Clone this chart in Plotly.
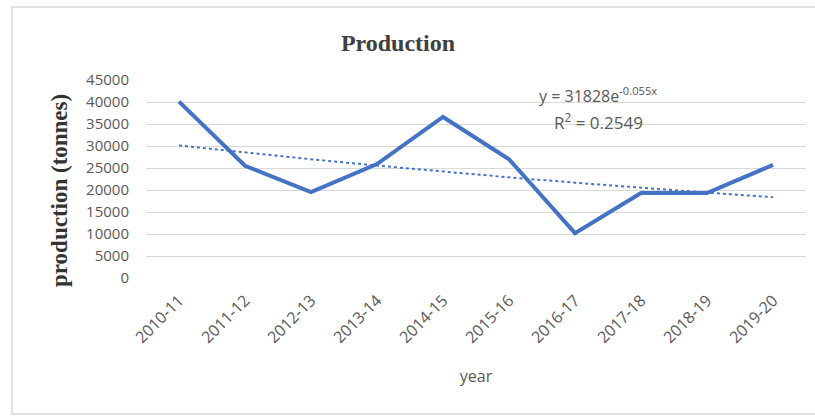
import numpy as np
import plotly.graph_objects as go

years = ["2010-11", "2011-12", "2012-13", "2013-14", "2014-15",
         "2015-16", "2016-17", "2017-18", "2018-19", "2019-20"]
production = [40100, 25500, 19500, 25900, 36600, 27000, 10200, 19300, 19300, 25700]
y_ticks = [0, 5000, 10000, 15000, 20000, 25000, 30000, 35000, 40000, 45000]

# Excel exponential trendline, as printed on the chart
trend_a = 31828
trend_b = -0.055
trend_label = "y = 31828e<sup>-0.055x</sup>"
r2_label = "R<sup>2</sup> = 0.2549"
y_title = "<b>production (tonnes)</b>"

idx = np.arange(1, len(years) + 1)
trend = trend_a * np.exp(trend_b * idx)

W, H = 815, 417
L, R, T, B = 146, 9, 80, 139
pw, ph = W - L - R, H - T - B

fig = go.Figure()
fig.add_trace(go.Scatter(x=years, y=production, mode="lines",
                         line=dict(color="#4472C4", width=4), showlegend=False))
fig.add_trace(go.Scatter(x=years, y=trend, mode="lines",
                         line=dict(color="#4472C4", width=2, dash="dot"), showlegend=False))

fig.update_layout(
    width=W, height=H,
    margin=dict(l=L, r=R, t=T, b=B),
    paper_bgcolor="white", plot_bgcolor="white",
    title=dict(text="<b>Production</b>", x=398 / W, xanchor="center",
               y=1 - 43 / H, yanchor="middle",
               font=dict(family="Liberation Serif", size=24, color="#404040")),
    xaxis=dict(type="category", range=[-0.5, len(years) - 0.5], tickangle=-45,
               showgrid=False, showline=False, ticks="", ticklabelstandoff=9,
               tickfont=dict(family="Open Sans", size=16, color="#595959"),
               title=dict(text="year", font=dict(family="Open Sans", size=16, color="#595959"),
                          standoff=24)),
    yaxis=dict(range=[0, 45000], tickvals=y_ticks, ticktext=[str(v) for v in y_ticks],
               showgrid=True, gridcolor="#D9D9D9", gridwidth=1, zeroline=False,
               showline=False, ticks="", ticklabelstandoff=16,
               tickfont=dict(family="Open Sans", size=15, color="#595959")),
    shapes=[dict(type="rect", xref="paper", yref="paper",
                 x0=(12 - L) / pw, x1=(W + 5 - L) / pw,
                 y0=-(B - 3) / ph, y1=1 + (T - 7) / ph,
                 line=dict(color="#D9D9D9", width=1.5), layer="below")],
    annotations=[
        dict(text=y_title, textangle=-90, x=(59 - L) / pw, y=1 - (191 - T) / ph,
             xref="paper", yref="paper", showarrow=False,
             xanchor="center", yanchor="middle",
             font=dict(family="Liberation Serif", size=23, color="#333333")),
        dict(text=trend_label, x=(598 - L) / pw, y=1 - (95 - T) / ph, xref="paper", yref="paper",
             showarrow=False, xanchor="center", yanchor="middle",
             font=dict(family="Open Sans", size=16, color="#595959")),
        dict(text=r2_label, x=(598 - L) / pw, y=1 - (121 - T) / ph, xref="paper", yref="paper",
             showarrow=False, xanchor="center", yanchor="middle",
             font=dict(family="Open Sans", size=17, color="#595959")),
    ],
)

fig.write_html("out.html")
